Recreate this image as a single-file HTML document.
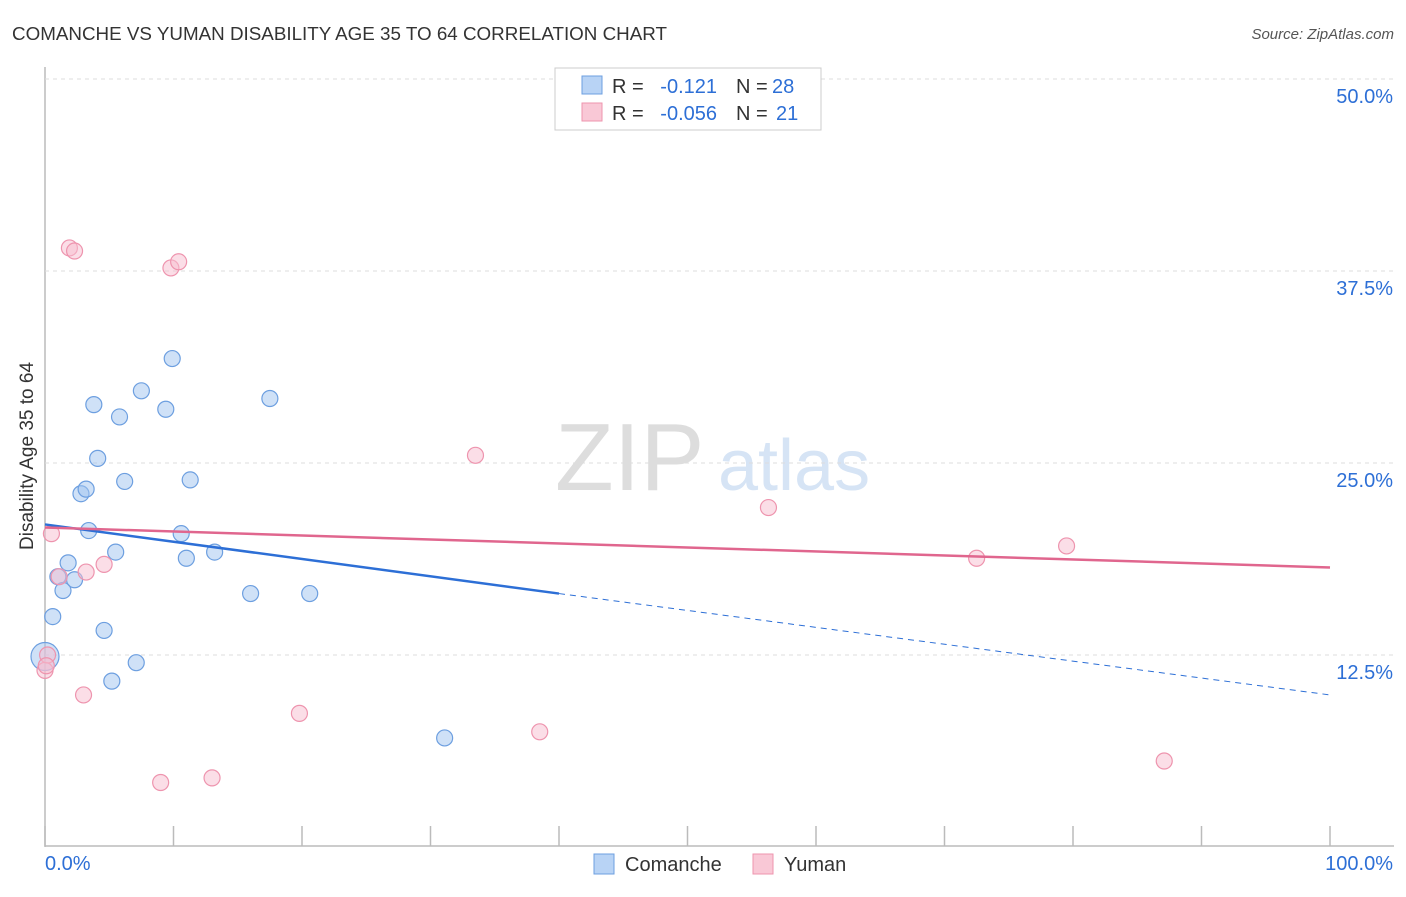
<!DOCTYPE html>
<html><head><meta charset="utf-8"><style>
body{margin:0;background:#fff;font-family:"Liberation Sans",sans-serif;}
svg text{font-family:"Liberation Sans",sans-serif;}
</style></head><body>
<svg id="c" width="1406" height="892" xmlns="http://www.w3.org/2000/svg">
<text x="12" y="40" font-size="18" fill="#333" textLength="655" lengthAdjust="spacingAndGlyphs">COMANCHE VS YUMAN DISABILITY AGE 35 TO 64 CORRELATION CHART</text>
<text x="1394" y="39" font-size="15" fill="#555" font-style="italic" text-anchor="end">Source: ZipAtlas.com</text>
<text x="33" y="456" font-size="19" fill="#333" text-anchor="middle" transform="rotate(-90 33 456)">Disability Age 35 to 64</text>
<text x="555" y="490" font-size="96" fill="#ddd" font-family="Liberation Serif">ZIP</text>
<text x="718" y="490" font-size="72" fill="#d6e4f5">atlas</text>
<g id="grid"></g><g id="marks"></g>
<g font-size="20">
<rect x="555" y="68" width="266" height="62" fill="#fff" stroke="#ccc"/>
<rect x="582" y="76" width="20" height="18" fill="#b8d3f5" stroke="#6d9fe0"/>
<rect x="582" y="103" width="20" height="18" fill="#f9c8d6" stroke="#ee94ae"/>
<text x="612" y="93" fill="#333">R =</text><text x="717" y="93" fill="#2d6fd6" text-anchor="end">-0.121</text>
<text x="736" y="93" fill="#333">N =</text><text x="772" y="93" fill="#2d6fd6">28</text>
<text x="612" y="120" fill="#333">R =</text><text x="717" y="120" fill="#2d6fd6" text-anchor="end">-0.056</text>
<text x="736" y="120" fill="#333">N =</text><text x="776" y="120" fill="#2d6fd6">21</text>
</g>
<g>
<rect x="594" y="854" width="20" height="20" fill="#b8d3f5" stroke="#6d9fe0"/>
<text x="625" y="871" font-size="20" fill="#333">Comanche</text>
<rect x="753" y="854" width="20" height="20" fill="#f9c8d6" stroke="#ee94ae"/>
<text x="784" y="871" font-size="20" fill="#333">Yuman</text>
</g>
</svg>
<script>
const yTicks=[12.5,25,37.5,50];
const xLabels=["0.0%","100.0%"];
const comX=[0,0.6,1,1.4,1.8,2.3,2.8,3.2,3.4,3.8,4.1,4.6,5.2,5.5,5.8,6.2,7.1,7.5,9.4,9.9,10.6,11,11.3,13.2,16,17.5,20.6,31.1];
const comY=[12.4,15,17.6,16.7,18.5,17.4,23.0,23.3,20.6,28.8,25.3,14.1,10.8,19.2,28.0,23.8,12.0,29.7,28.5,31.8,20.4,18.8,23.9,19.2,16.5,29.2,16.5,7.1];
const yumX=[0,0.2,0.5,1.1,1.9,2.3,3.0,3.2,4.6,9,9.8,10.4,13,19.8,33.5,38.5,56.3,72.5,79.5,87.1,0.1];
const yumY=[11.5,12.5,20.4,17.6,39.0,38.8,9.9,17.9,18.4,4.2,37.7,38.1,4.5,8.7,25.5,7.5,22.1,18.8,19.6,5.6,11.8];
const comTrend=[21.0,16.5,9.9];
const yumTrend=[20.8,18.2];
const X0=45,X1=1330,Y0=847,PY=15.36;
const sx=v=>X0+(X1-X0)*v/100, sy=v=>Y0-v*PY;
const NS="http://www.w3.org/2000/svg";
function mk(t,a,p){const e=document.createElementNS(NS,t);for(const k in a)e.setAttribute(k,a[k]);p.appendChild(e);return e;}
const g=document.getElementById('grid'),m=document.getElementById('marks');
let ax=mk('line',{x1:45,y1:67,x2:45,y2:847,stroke:'#bbb','stroke-width':1.5},g);


let bx=mk('line',{x1:45,y1:846,x2:1394,y2:846,stroke:'#bbb','stroke-width':1.5},g);


yTicks.forEach(t=>{const l=mk('line',{x1:45,x2:1394,y1:sy(t),y2:sy(t),stroke:'#ddd','stroke-dasharray':'4,4'},g);


const tx=mk('text',{x:1393,y:sy(t)+24,'font-size':20,fill:'#2d6fd6','text-anchor':'end'},g);tx.textContent=t.toFixed(1)+'%';

});
for(let i=0;i<=10;i++){const l=mk('line',{x1:sx(i*10),x2:sx(i*10),y1:826,y2:846,stroke:'#bbb','stroke-width':1.5},g);

}
xLabels.forEach((s,i)=>{const t=mk('text',{x:i?1393:45,y:870,'font-size':20,fill:'#2d6fd6','text-anchor':i?'end':'start'},g);t.textContent=s;

});
comX.forEach((v,i)=>{const c=mk('circle',{cx:sx(v),cy:sy(comY[i]),r:i==0?14:8,fill:'rgba(160,196,240,0.5)',stroke:'#6d9fe0','stroke-width':1.2},m);

});
yumX.forEach((v,i)=>{const c=mk('circle',{cx:sx(v),cy:sy(yumY[i]),r:8,fill:'rgba(248,190,208,0.5)',stroke:'#ee94ae','stroke-width':1.2},m);

});
let l1=mk('line',{x1:sx(0),y1:sy(comTrend[0]),x2:sx(40),y2:sy(comTrend[1]),stroke:'#2d6fd6','stroke-width':2.5},m);


let l2=mk('line',{x1:sx(40),y1:sy(comTrend[1]),x2:sx(100),y2:sy(comTrend[2]),stroke:'#2d6fd6','stroke-width':1,'stroke-dasharray':'6,5'},m);


let l3=mk('line',{x1:sx(0),y1:sy(yumTrend[0]),x2:sx(100),y2:sy(yumTrend[1]),stroke:'#e0668e','stroke-width':2.5},m);


</script>
</body></html>
